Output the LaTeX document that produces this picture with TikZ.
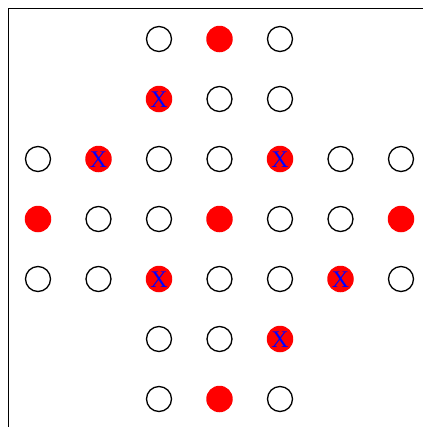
\documentclass[tikz,border=0pt]{standalone}
\usepackage{fontspec}
\setmainfont{Liberation Serif}
\begin{document}
\begin{tikzpicture}[x=1bp,y=1bp,
  hole/.style={circle,draw=black,line width=1.3bp,minimum size=25bp,inner sep=0pt,fill=white},
  peg/.style={circle,fill=red,draw=none,minimum size=26.5bp,inner sep=0pt},
  xpeg/.style={peg,text=blue,text depth=0pt,text height=16bp,font=\fontsize{24}{24}\selectfont}]
\useasboundingbox (0,-427) rectangle (423,0);
\coordinate (tl) at (8,-8);
\coordinate (tr) at (423,-8);
\coordinate (bl) at (8,-427);
\draw[line width=1bp] (tr) -- (tl) -- (bl);
% row 0
\node[hole] (n02) at (159,-39) {};
\node[peg]  (n03) at (219.5,-39) {};
\node[hole] (n04) at (280,-39) {};
% row 1
\node[xpeg] (n12) at (159,-99) {X};
\node[hole] (n13) at (219.5,-99) {};
\node[hole] (n14) at (280,-99) {};
% row 2
\node[hole] (n20) at (38,-159) {};
\node[xpeg] (n21) at (98.5,-159) {X};
\node[hole] (n22) at (159,-159) {};
\node[hole] (n23) at (219.5,-159) {};
\node[xpeg] (n24) at (280,-159) {X};
\node[hole] (n25) at (340.5,-159) {};
\node[hole] (n26) at (401,-159) {};
% row 3
\node[peg]  (n30) at (38,-219) {};
\node[hole] (n31) at (98.5,-219) {};
\node[hole] (n32) at (159,-219) {};
\node[peg]  (n33) at (219.5,-219) {};
\node[hole] (n34) at (280,-219) {};
\node[hole] (n35) at (340.5,-219) {};
\node[peg]  (n36) at (401,-219) {};
% row 4
\node[hole] (n40) at (38,-279) {};
\node[hole] (n41) at (98.5,-279) {};
\node[xpeg] (n42) at (159,-279) {X};
\node[hole] (n43) at (219.5,-279) {};
\node[hole] (n44) at (280,-279) {};
\node[xpeg] (n45) at (340.5,-279) {X};
\node[hole] (n46) at (401,-279) {};
% row 5
\node[hole] (n52) at (159,-339) {};
\node[hole] (n53) at (219.5,-339) {};
\node[xpeg] (n54) at (280,-339) {X};
% row 6
\node[hole] (n62) at (159,-399) {};
\node[peg]  (n63) at (219.5,-399) {};
\node[hole] (n64) at (280,-399) {};
\end{tikzpicture}
\end{document}
